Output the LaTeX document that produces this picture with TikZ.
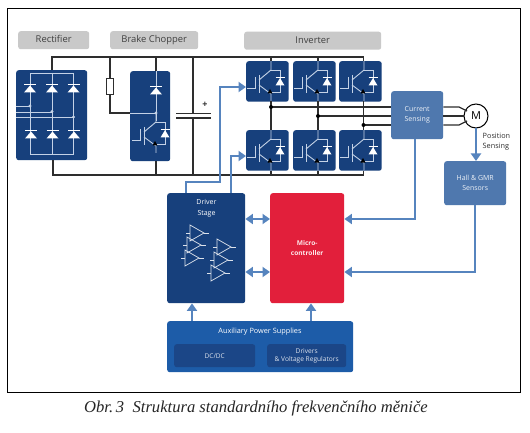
\documentclass[tikz,border=0pt]{standalone}
\usepackage{fontspec}
\setmainfont{Liberation Serif}
\setsansfont{Open Sans}
\usetikzlibrary{arrows.meta,calc}
\definecolor{navy}{HTML}{17407C}
\definecolor{midblue}{HTML}{4F78AE}
\definecolor{arrowblue}{HTML}{5684BE}
\definecolor{ared}{HTML}{E21F3B}
\definecolor{lgrey}{HTML}{C9C9C9}
\definecolor{auxblue}{HTML}{1D5CA8}
\definecolor{auxin}{HTML}{1B4687}
\definecolor{wire}{HTML}{2E2E2E}
\definecolor{lightw}{HTML}{C4D2E6}
\tikzset{
  x=1pt,y=-1pt,
  lbl/.style={fill=lgrey,rounded corners=2.5pt,inner sep=0pt,font=\sffamily\fontsize{9.4}{10}\selectfont,text=black!75,text height=7pt,text depth=2pt},
  navybox/.style={fill=navy,rounded corners=2.5pt,inner sep=0pt},
  midbox/.style={fill=midblue,rounded corners=2.5pt,inner sep=0pt,text=white!90!midblue,align=center,font=\sffamily\fontsize{7}{10}\selectfont},
  wireline/.style={draw=wire,line width=1.2pt},
  lw/.style={draw=lightw,line width=0.9pt},
  flow/.style={draw=arrowblue,line width=2.6pt,-{Triangle[length=7.5pt,width=10pt]}},
  dflow/.style={draw=arrowblue,line width=2.6pt,{Triangle[length=7.5pt,width=10pt]}-{Triangle[length=7.5pt,width=10pt]}},
  dot/.style={circle,fill=black,inner sep=0pt,minimum size=4pt},
  ldot/.style={circle,fill=lightw,inner sep=0pt,minimum size=3.2pt},
  diode/.pic={
    \fill[white] (-6,3.5) -- (6,3.5) -- (0,-3.5) -- cycle;
    \draw[white,line width=0.8pt] (-6,-4.2) -- (6,-4.2);
  },
  igbt/.pic={
    \draw[lw] (1,27) -- (9,27) -- (9,16);
    \draw[lw] (13,14) -- (13,32);
    \draw[lw] (13,19) -- (25,9) -- (25,0);
    \draw[lw] (25,9) -- (34,9) -- (34,31) -- (25,31);
    \draw[lw] (13,24) -- (25,33) -- (25,40);
    \fill[black] (21.5,32.5) -- (26.5,32.5) -- (24,28) -- cycle;
    \fill[white] (29.5,24.5) -- (38.5,24.5) -- (34,17) -- cycle;
    \draw[white,line width=0.8pt] (29.5,16.5) -- (38.5,16.5);
  },
  amp/.pic={
    \draw[draw=white!85!navy,line width=0.7pt] (0,0) -- (0,16) -- (14,8) -- cycle;
    \draw[draw=white!85!navy,line width=0.7pt] (-4,8) -- (0,8) (14,8) -- (19,8);
  },
}
\begin{document}
\begin{tikzpicture}
\useasboundingbox (0,0) rectangle (530,433);
\fill[white] (0,0) rectangle (530,433);
\draw[black,line width=1pt] (7.5,8.5) rectangle (520,392);

% labels
\node[lbl,minimum width=71pt,minimum height=18pt,anchor=north west] (lrect) at (18,31) {Rectifier};
\node[lbl,minimum width=88pt,minimum height=18pt,anchor=north west] (lbrake) at (110,31) {Brake Chopper};
\node[lbl,minimum width=137pt,minimum height=18pt,anchor=north west] (linv) at (244,31.5) {Inverter};

% boxes
\node[navybox,minimum width=71pt,minimum height=90pt,anchor=north west] (rect) at (16,70) {};
\node[navybox,minimum width=40pt,minimum height=90pt,anchor=north west] (chop) at (130,71) {};
\foreach \n/\x in {a/246,b/293,c/339}{
  \node[navybox,minimum width=42.5pt,minimum height=40.5pt,anchor=north west] (t\n) at (\x,61) {};
  \node[navybox,minimum width=42.5pt,minimum height=40.5pt,anchor=north west] (b\n) at (\x,130) {};
}

% buses
\coordinate (busTL) at (52,57); \coordinate (busTR) at (363.5,57);
\coordinate (busBL) at (53,175); \coordinate (busBR) at (363.5,175);
\draw[wireline] (rect.north -| busTL) -- (busTL) -- (busTR) -- (busTR |- tc.north);
\draw[wireline] (rect.south -| busBL) -- (busBL) -- (busBR) -- (busBR |- bc.south);
\foreach \n/\x in {a/271,b/318}{
  \draw[wireline] (\x,57) -- (t\n.north -| \x,0);
  \draw[wireline] (\x,175) -- (b\n.south -| \x,0);
}
% capacitor
\draw[wireline] (193,57) -- (193,113.5);
\draw[wireline] (193,118) -- (193,175);
\draw[wire,line width=1.5pt] (176,113.5) -- (211,113.5) (176,118) -- (211,118);
\node[font=\sffamily\bfseries\fontsize{9}{9}\selectfont,text=wire,inner sep=0pt] (plus) at (205,104.5) {+};
% resistor
\node[draw=wire,fill=white,line width=0.9pt,minimum width=7pt,minimum height=16pt,inner sep=0pt] (res) at (110,86) {};
\draw[wireline] (110,57) -- (res.north);
\draw[wireline] (res.south) -- (110,113) -- (chop.west |- 0,113);
% chopper leads
\draw[wireline] (156,57) -- (chop.north -| 156,0);
\draw[wireline] (chop.south -| 156,0) -- (156,175);

% rectifier inner
\draw[lw] (30,73) rectangle (73.5,154);
\draw[lw] (52,73) -- (52,154);
\draw[lw] (16,106) -- (30,106) (16,112) -- (52,112) (16,117) -- (73.5,117);
\node[ldot] (d1) at (30,106) {}; \node[ldot] (d2) at (52,111.5) {}; \node[ldot] (d3) at (73.5,117) {};
\foreach \x/\y in {30/89,52/89,73.5/89,31/135,52.5/135,74/135}{ \pic at (\x,\y) {diode}; }
% chopper inner
\draw[lw] (156,71) -- (156,121);
\draw[lw] (130,113) -- (156,113);
\node[ldot] (d4) at (156,113) {};
\pic at (156,91) {diode};
\pic at (131,113) {igbt};

% inverter switches
\foreach \x in {246,293,339}{
  \pic at (\x,61) {igbt};
  \pic at (\x,130) {igbt};
}

% current sensing, motor, sensors
\node[midbox,minimum width=52pt,minimum height=48pt,anchor=north west] (cs) at (391,91) {Current\\Sensing};
\node[draw=black,fill=white,line width=1pt,circle,minimum size=24pt,inner sep=0pt,font=\sffamily\fontsize{11}{11}\selectfont] (motor) at (476,116) {M};
\node[midbox,minimum width=62pt,minimum height=44pt,anchor=north west] (hall) at (444,161) {Hall \& GMR\\Sensors};
\node[font=\sffamily\fontsize{7.3}{10}\selectfont,text=wire,align=left,inner sep=0pt,anchor=west] (pos) at (482.5,142) {Position\\Sensing};

% phases
\draw[wireline] (271,101.5) -- (271,130);
\draw[wireline] (318,101.5) -- (318,130);
\draw[wireline] (363.5,101.5) -- (363.5,130);
\draw[wireline] (271,107) -- (cs.west |- 0,107);
\draw[wireline] (318,116) -- (cs.west |- 0,116);
\draw[wireline] (363.5,125) -- (cs.west |- 0,125);
\node[dot] (p1) at (271,107) {}; \node[dot] (p2) at (318,116) {}; \node[dot] (p3) at (363.5,125) {};
\draw[wireline] (cs.east |- 0,107) -- (459,107) -- (467,111);
\draw[wireline] (cs.east |- 0,116) -- (motor.west);
\draw[wireline] (cs.east |- 0,125) -- (459,125) -- (467,121);

% driver, micro, aux
\node[navybox,minimum width=78pt,minimum height=110pt,anchor=north west] (drv) at (167,193) {};
\node[font=\sffamily\fontsize{7}{11}\selectfont,text=white,align=center,inner sep=0pt] (drvt) at (206.5,208.5) {Driver\\Stage};
\node[fill=ared,rounded corners=2.5pt,inner sep=0pt,minimum width=74pt,minimum height=110pt,anchor=north west,text=white!90!ared,align=center,font=\sffamily\bfseries\fontsize{6.6}{9.5}\selectfont] (mcu) at (270,193) {Micro-\\controller};
\node[fill=auxblue,rounded corners=2.5pt,inner sep=0pt,minimum width=186pt,minimum height=51pt,anchor=north west] (aux) at (167,321) {};
\node[text=white,inner sep=0pt,font=\sffamily\fontsize{7.3}{8}\selectfont] (auxt) at (260,332) {Auxiliary Power Supplies};
\node[fill=auxin,rounded corners=2.5pt,inner sep=0pt,minimum width=81pt,minimum height=23pt,anchor=north west,text=white!85!auxin,font=\sffamily\fontsize{6.5}{7}\selectfont] (dcdc) at (174,344) {DC/DC};
\node[fill=auxin,rounded corners=2.5pt,inner sep=0pt,minimum width=79pt,minimum height=23pt,anchor=north west,text=white!85!auxin,align=center,font=\sffamily\fontsize{6.6}{8}\selectfont] (drreg) at (267,344) {Drivers\\\& Voltage Regulators};
% amps
\foreach \x/\y in {190/225,187/237,185/250,217/239,214/252,211/265}{ \pic at (\x,\y) {amp}; }

% blue connectors
\draw[flow] (186,193) -- (186,182) -- (220,182) -- (220,87) -- (ta.west |- 0,87);
\draw[flow] (231,193) -- (231,156) -- (ba.west |- 0,156);
\draw[flow] (motor.south) -- (hall.north -| motor.south);
\draw[flow] (cs.south -| 415,0) -- (415,219) -- (mcu.east |- 0,219);
\draw[flow] (hall.south -| 475,0) -- (475,272) -- (mcu.east |- 0,272);
\draw[dflow] (drv.east |- 0,219) -- (mcu.west |- 0,219);
\draw[dflow] (drv.east |- 0,272) -- (mcu.west |- 0,272);
\draw[flow] (aux.north -| 192,0) -- (drv.south -| 192,0);
\draw[flow] (aux.north -| 311,0) -- (mcu.south -| 311,0);

% caption
\node[font=\rmfamily\itshape\fontsize{16.6}{18}\selectfont,inner sep=0pt,text=black!85] (cap) at (256,408) {Obr.\,3\enspace Struktura standardního frekvenčního měniče};
\end{tikzpicture}
\end{document}
